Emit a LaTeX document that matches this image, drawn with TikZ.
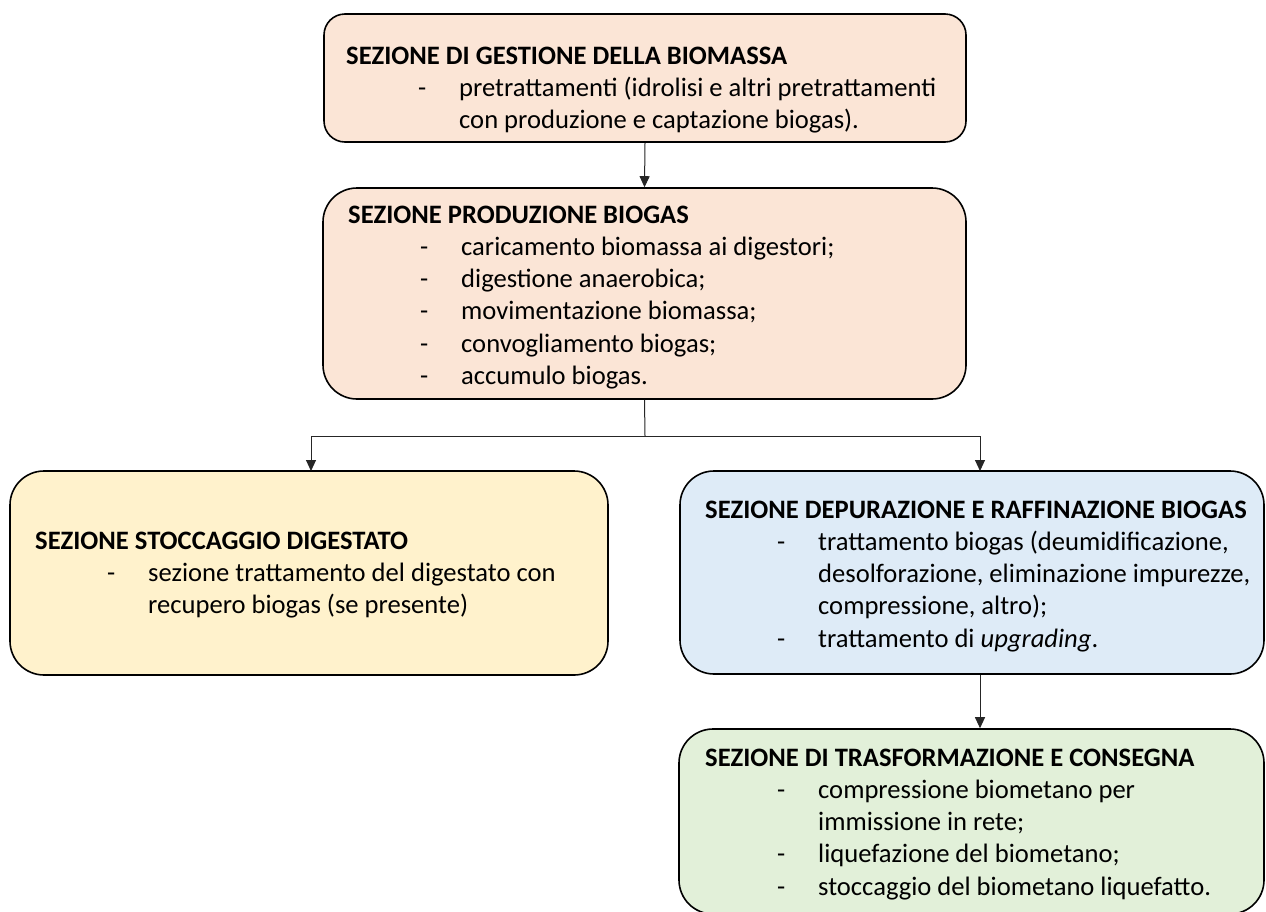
\documentclass[tikz,border=0pt]{standalone}
\usepackage{fontspec}
\setmainfont{Carlito}
\usetikzlibrary{arrows.meta}
\definecolor{peach}{HTML}{FBE5D6}
\definecolor{cream}{HTML}{FFF2CC}
\definecolor{paleblue}{HTML}{DEEBF7}
\definecolor{palegreen}{HTML}{E2F0D9}
\newcommand{\bxtitle}[1]{\rule{0pt}{21pt}\textbf{#1}}
\newcommand{\bxitem}[1]{\hspace*{72pt}\makebox[41pt][l]{-}#1}
\newcommand{\bxcont}[1]{\hspace*{113pt}#1}
\begin{document}
\begin{tikzpicture}[x=1pt,y=-1pt,
  sect/.style={draw=black, line width=1.6pt, rounded corners=#1, inner sep=0pt},
  sect/.default=34pt,
  txt/.style={anchor=north west, inner sep=0pt, align=left, font=\fontsize{26.6pt}{32.2pt}\selectfont},
  conn/.style={draw=black!85, line width=1pt, -{Triangle[length=11pt,width=10pt]}},
  plain/.style={draw=black!85, line width=1pt}]
\fill[white] (0,0) rectangle (1266,911);
\useasboundingbox (0,0) rectangle (1266,911);

% boxes
\node[sect=21pt, fill=peach, minimum width=642pt, minimum height=128pt] (b1) at (645,78) {};
\node[sect, fill=peach, minimum width=643pt, minimum height=211pt] (b2) at (644.5,293.5) {};
\node[sect, fill=cream, minimum width=598pt, minimum height=204pt] (b3) at (309,573) {};
\node[sect, fill=paleblue, minimum width=584pt, minimum height=203pt] (b4) at (972,572.5) {};
\node[sect, fill=palegreen, minimum width=585pt, minimum height=185pt] (b5) at (971.5,821.5) {};

% texts (anchor y = first baseline - 21)
\node[txt] (t1) at (346,43) {\bxtitle{SEZIONE DI GESTIONE DELLA BIOMASSA}\\
\bxitem{pretrattamenti (idrolisi e altri pretrattamenti}\\
\bxcont{con produzione e captazione biogas).}};

\node[txt] (t2) at (348,202) {\bxtitle{SEZIONE PRODUZIONE BIOGAS}\\
\bxitem{caricamento biomassa ai digestori;}\\
\bxitem{digestione anaerobica;}\\
\bxitem{movimentazione biomassa;}\\
\bxitem{convogliamento biogas;}\\
\bxitem{accumulo biogas.}};

\node[txt] (t3) at (35,528) {\bxtitle{SEZIONE STOCCAGGIO DIGESTATO}\\
\bxitem{sezione trattamento del digestato con}\\
\bxcont{recupero biogas (se presente)}};

\node[txt] (t4) at (705,497) {\bxtitle{SEZIONE DEPURAZIONE E RAFFINAZIONE BIOGAS}\\
\bxitem{trattamento biogas (deumidificazione,}\\
\bxcont{desolforazione, eliminazione impurezze,}\\
\bxcont{compressione, altro);}\\
\bxitem{trattamento di \textit{upgrading}.}};

\node[txt] (t5) at (705,745) {\bxtitle{SEZIONE DI TRASFORMAZIONE E CONSEGNA}\\
\bxitem{compressione biometano per}\\
\bxcont{immissione in rete;}\\
\bxitem{liquefazione del biometano;}\\
\bxitem{stoccaggio del biometano liquefatto.}};

% connectors
\coordinate (j) at (645,436);
\coordinate (aL) at (311,471);
\coordinate (aR) at (980,471);
\draw[conn] (b1.south) -- (b2.north);
\draw[plain] (b2.south) -- (j);
\draw[conn] (j) -| (aL);
\draw[conn] (j) -| (aR);
\draw[conn] (aR |- b4.south) -- (aR |- b5.north);
\end{tikzpicture}
\end{document}
